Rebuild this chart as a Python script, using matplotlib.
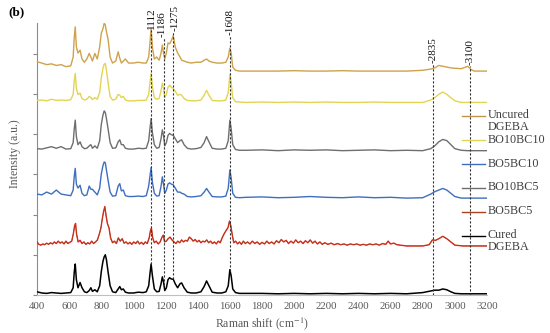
import numpy as np
import matplotlib.pyplot as plt
from matplotlib.lines import Line2D

plt.rcParams['font.family'] = ['Liberation Serif', 'DejaVu Serif']
plt.rcParams['mathtext.fontset'] = 'stix'

# Raman shift grid (cm-1) shared by the smoother spectra
shift = [400, 430, 460, 490, 520, 550, 580, 610, 625, 632,
         638, 645, 655, 668, 680, 695, 710, 725, 735, 745,
         760, 775, 790, 800, 810, 818, 825, 832, 842, 855,
         870, 890, 905, 915, 925, 937, 950, 970, 1000, 1030,
         1060, 1080, 1095, 1103, 1110, 1118, 1130, 1145, 1160, 1172,
         1180, 1187, 1195, 1205, 1215, 1225, 1235, 1248, 1260, 1275,
         1290, 1300, 1315, 1335, 1360, 1390, 1420, 1440, 1455, 1470,
         1490, 1520, 1550, 1575, 1590, 1600, 1608, 1618, 1635, 1660,
         1700, 1800, 1900, 2000, 2100, 2200, 2300, 2400, 2500, 2600,
         2700, 2800, 2850, 2875, 2900, 2925, 2950, 2975, 3000, 3040,
         3080, 3100, 3120, 3150, 3200]

uncured = [0.23, 0.20, 0.16, 0.18, 0.14, 0.16, 0.11, 0.13, 0.35, 0.85,
           1.10, 0.60, 0.45, 0.52, 0.30, 0.22, 0.30, 0.44, 0.35, 0.25,
           0.44, 0.30, 0.60, 0.94, 1.05, 1.19, 1.15, 0.98, 0.80, 0.35,
           0.20, 0.25, 0.48, 0.32, 0.20, 0.25, 0.30, 0.20, 0.20, 0.22,
           0.20, 0.20, 0.35, 0.70, 1.06, 0.60, 0.30, 0.35, 0.27, 0.45,
           0.65, 0.45, 0.30, 0.45, 0.70, 0.68, 0.75, 0.88, 0.60, 0.45,
           0.35, 0.27, 0.25, 0.22, 0.20, 0.22, 0.22, 0.27, 0.30, 0.25,
           0.22, 0.20, 0.20, 0.22, 0.35, 0.57, 0.45, 0.10, 0.02, 0.00,
           0.00, 0.00, 0.00, 0.01, 0.00, 0.00, 0.01, 0.00, 0.00, 0.00,
           0.00, 0.02, 0.05, 0.08, 0.14, 0.12, 0.10, 0.08, 0.07, 0.06,
           0.12, 0.04, 0.00, 0.00, 0.00]

bo10bc10 = [0.05, 0.06, 0.04, 0.08, 0.05, 0.06, 0.05, 0.07, 0.20, 0.55,
            0.72, 0.35, 0.20, 0.23, 0.10, 0.06, 0.08, 0.15, 0.12, 0.07,
            0.12, 0.08, 0.25, 0.60, 0.85, 0.95, 0.97, 0.80, 0.50, 0.15,
            0.06, 0.08, 0.20, 0.18, 0.12, 0.15, 0.06, 0.04, 0.04, 0.05,
            0.05, 0.06, 0.20, 0.50, 0.72, 0.40, 0.12, 0.08, 0.10, 0.30,
            0.48, 0.35, 0.12, 0.20, 0.38, 0.43, 0.38, 0.35, 0.28, 0.18,
            0.20, 0.18, 0.10, 0.05, 0.04, 0.04, 0.06, 0.18, 0.30, 0.18,
            0.05, 0.04, 0.04, 0.06, 0.25, 0.70, 0.50, 0.12, 0.02, 0.01,
            0.00, 0.01, 0.00, 0.01, 0.00, 0.01, 0.00, 0.00, 0.01, 0.00,
            0.00, 0.00, 0.06, 0.12, 0.20, 0.26, 0.20, 0.12, 0.04, 0.00,
            0.00, 0.00, 0.00, 0.00, 0.00]

bo5bc10 = [0.10, 0.08, 0.15, 0.10, 0.20, 0.10, 0.08, 0.06, 0.20, 0.55,
           0.74, 0.35, 0.25, 0.32, 0.12, 0.06, 0.08, 0.30, 0.22, 0.22,
           0.15, 0.08, 0.25, 0.60, 0.80, 0.90, 0.88, 0.70, 0.45, 0.15,
           0.05, 0.06, 0.30, 0.36, 0.18, 0.20, 0.06, 0.04, 0.04, 0.05,
           0.04, 0.06, 0.30, 0.55, 0.76, 0.40, 0.12, 0.05, 0.06, 0.30,
           0.53, 0.35, 0.12, 0.20, 0.35, 0.38, 0.35, 0.33, 0.25, 0.15,
           0.15, 0.12, 0.10, 0.04, 0.03, 0.04, 0.06, 0.15, 0.24, 0.15,
           0.04, 0.03, 0.03, 0.05, 0.25, 0.70, 0.50, 0.12, 0.02, 0.01,
           0.02, 0.03, 0.01, 0.02, 0.04, 0.02, 0.01, 0.03, 0.01, 0.02,
           0.00, 0.01, 0.10, 0.16, 0.20, 0.24, 0.20, 0.12, 0.04, 0.00,
           0.00, 0.00, 0.00, 0.00, 0.00]

bo10bc5 = [0.05, 0.04, 0.07, 0.10, 0.06, 0.10, 0.04, 0.05, 0.20, 0.55,
           0.76, 0.35, 0.15, 0.22, 0.10, 0.05, 0.06, 0.12, 0.15, 0.06,
           0.12, 0.06, 0.25, 0.65, 0.88, 0.99, 0.95, 0.80, 0.55, 0.20,
           0.06, 0.07, 0.22, 0.27, 0.15, 0.15, 0.06, 0.04, 0.04, 0.06,
           0.05, 0.06, 0.25, 0.55, 0.80, 0.45, 0.15, 0.06, 0.08, 0.30,
           0.52, 0.38, 0.12, 0.20, 0.38, 0.43, 0.40, 0.38, 0.30, 0.20,
           0.25, 0.27, 0.15, 0.06, 0.04, 0.05, 0.08, 0.20, 0.35, 0.22,
           0.06, 0.04, 0.04, 0.06, 0.25, 0.76, 0.55, 0.15, 0.03, 0.01,
           0.01, 0.02, 0.00, 0.02, 0.01, 0.02, 0.00, 0.01, 0.02, 0.00,
           0.01, 0.00, 0.05, 0.12, 0.22, 0.28, 0.25, 0.15, 0.05, 0.01,
           0.00, 0.00, 0.00, 0.00, 0.00]

cured = [0.05, 0.02, 0.01, 0.03, 0.02, 0.01, 0.02, 0.03, 0.15, 0.55,
         0.74, 0.35, 0.15, 0.28, 0.15, 0.05, 0.03, 0.08, 0.15, 0.06,
         0.10, 0.05, 0.20, 0.55, 0.80, 0.92, 0.97, 0.85, 0.55, 0.20,
         0.05, 0.03, 0.12, 0.18, 0.10, 0.12, 0.04, 0.02, 0.02, 0.04,
         0.03, 0.05, 0.20, 0.50, 0.74, 0.45, 0.12, 0.05, 0.06, 0.25,
         0.42, 0.30, 0.08, 0.15, 0.35, 0.40, 0.37, 0.36, 0.25, 0.15,
         0.25, 0.27, 0.15, 0.04, 0.02, 0.02, 0.05, 0.18, 0.32, 0.20,
         0.04, 0.02, 0.02, 0.05, 0.20, 0.60, 0.45, 0.12, 0.03, 0.01,
         0.01, 0.01, 0.00, 0.01, 0.00, 0.01, 0.00, 0.01, 0.00, 0.01,
         0.00, 0.03, 0.07, 0.09, 0.09, 0.12, 0.10, 0.05, 0.01, 0.00,
         0.00, 0.00, 0.00, 0.00, 0.00]

# the noisy BO5BC5 trace needs its own, denser grid
shift_bo5bc5 = [400, 412, 424, 436, 448, 460, 472, 484, 496, 508, 520, 532, 544, 556, 568, 580,
                592, 604, 616, 626, 634, 640, 646, 656, 668, 680, 692, 704, 716, 728, 740, 752,
                764, 776, 788, 798, 806, 814, 822, 830, 838, 848, 858, 870, 882, 894, 906, 918,
                930, 942, 954, 966, 978, 990, 1002, 1014, 1026, 1038, 1050, 1062, 1074, 1086, 1098, 1106,
                1112, 1120, 1130, 1142, 1154, 1166, 1178, 1186, 1194, 1204, 1216, 1228, 1240, 1252, 1264, 1276,
                1288, 1300, 1312, 1324, 1336, 1348, 1360, 1372, 1384, 1396, 1408, 1420, 1432, 1444, 1456, 1468,
                1480, 1492, 1504, 1516, 1528, 1540, 1552, 1564, 1576, 1588, 1598, 1606, 1614, 1624, 1636, 1648,
                1660, 1672, 1684, 1696, 1710, 1725, 1740, 1755, 1770, 1785, 1800, 1815, 1830, 1845, 1860, 1875,
                1890, 1905, 1920, 1935, 1950, 1965, 1980, 1995, 2010, 2025, 2040, 2055, 2070, 2085, 2100, 2115,
                2130, 2145, 2160, 2175, 2190, 2210, 2230, 2250, 2270, 2290, 2310, 2330, 2350, 2370, 2390, 2410,
                2430, 2450, 2470, 2490, 2510, 2530, 2550, 2570, 2585, 2600, 2620, 2640, 2660, 2700, 2800, 2840,
                2860, 2880, 2900, 2925, 2950, 2975, 3000, 3050, 3200]
bo5bc5 = [0.10, 0.04, 0.02, 0.05, 0.03, 0.07, 0.04, 0.08, 0.05, 0.10, 0.06, 0.12, 0.07, 0.10, 0.05, 0.12,
          0.06, 0.09, 0.12, 0.30, 0.50, 0.56, 0.30, 0.10, 0.14, 0.06, 0.10, 0.04, 0.08, 0.05, 0.12, 0.06,
          0.10, 0.15, 0.30, 0.45, 0.67, 0.85, 0.98, 0.75, 0.56, 0.45, 0.20, 0.08, 0.12, 0.06, 0.20, 0.12,
          0.18, 0.07, 0.10, 0.05, 0.09, 0.04, 0.10, 0.06, 0.12, 0.05, 0.09, 0.04, 0.10, 0.06, 0.20, 0.38,
          0.44, 0.20, 0.08, 0.12, 0.05, 0.10, 0.22, 0.27, 0.10, 0.12, 0.18, 0.22, 0.15, 0.10, 0.06, 0.12,
          0.08, 0.15, 0.10, 0.14, 0.12, 0.22, 0.18, 0.12, 0.16, 0.10, 0.14, 0.08, 0.12, 0.10, 0.15, 0.08,
          0.12, 0.06, 0.10, 0.05, 0.12, 0.08, 0.20, 0.30, 0.38, 0.45, 0.62, 0.50, 0.30, 0.08, 0.12, 0.05,
          0.10, 0.04, 0.12, 0.06, 0.10, 0.05, 0.12, 0.06, 0.10, 0.04, 0.09, 0.05, 0.12, 0.06, 0.10, 0.05,
          0.13, 0.08, 0.16, 0.10, 0.14, 0.06, 0.12, 0.07, 0.15, 0.08, 0.12, 0.06, 0.13, 0.08, 0.15, 0.07,
          0.12, 0.05, 0.10, 0.04, 0.08, 0.04, 0.07, 0.03, 0.06, 0.03, 0.05, 0.02, 0.05, 0.03, 0.05, 0.02,
          0.04, 0.02, 0.05, 0.03, 0.05, 0.02, 0.06, 0.04, 0.12, 0.05, 0.07, 0.03, 0.02, 0.00, 0.00, 0.03,
          0.15, 0.14, 0.18, 0.24, 0.18, 0.10, 0.02, 0.00, 0.00]

labels = ['Uncured\nDGEBA', 'BO10BC10', 'BO5BC10', 'BO10BC5', 'BO5BC5', 'Cured\nDGEBA']

# marked bands: where the dotted guides sit and what they are labelled
band_pos = [1110, 1190, 1248, 1602, 2862, 3095]
band_labels = ['1112', '-1186', '-1275', '-1608', '-2835', '-3100']

# layout / style
offsets = [5.57, 4.79, 2.41, 3.59, 1.22, 0.03]
colors = ['#cfa24b', '#e2d553', '#3d6fbf', '#6e6e6e', '#e3211b', '#000000']
handle_colors = ['#bf9444', '#e2d553', '#3d6fbf', '#6e6e6e', '#a8431e', '#000000']
band_top = [6.6, 6.4, 6.55, 6.45, 5.75, 5.7]
label_nudge = [0, -10, 10, 0, 0, 0]   # cm-1, keeps the 1186/1275 labels apart

fig = plt.figure(figsize=(5.5, 3.33), dpi=100)
ax = fig.add_axes([37 / 550, 38 / 333, 450 / 550, 272 / 333])

series = [(shift, uncured), (shift, bo10bc10), (shift, bo5bc10),
          (shift, bo10bc5), (shift_bo5bc5, bo5bc5), (shift, cured)]
for (x, y), off, c in zip(series, offsets, colors):
    yy = np.array(y) + off
    ax.plot(x, yy, color=c, lw=1.0 if c != '#000000' else 1.1, zorder=3)
    if c == '#e3211b':
        ax.plot(x, yy, color='#9b4a1e', lw=0.4, zorder=3)

cured_line = np.array(cured) + offsets[5]
for pos, lab, top, dx in zip(band_pos, band_labels, band_top, label_nudge):
    bottom = np.interp(pos, shift, cured_line) if pos < 2000 else 0
    ax.plot([pos, pos], [bottom, top], color='#333333', lw=0.8,
            linestyle=(0, (2, 1.6)), zorder=4)
    ax.text(pos + dx, top + 0.02, lab, rotation=90, ha='center', va='bottom',
            fontsize=8, color='#111111', clip_on=False)

ax.set_xlim(400, 3200)
ax.set_ylim(0, 272 / 40.2)
ax.set_xticks(np.arange(400, 3201, 200))
ax.set_yticks(np.arange(0, 7))
ax.set_yticklabels([])
ax.tick_params(axis='x', length=0, pad=5, labelsize=7.8, labelcolor='#595959')
ax.tick_params(axis='y', length=3, width=0.8, color='#888888', direction='out')
for side in ['top', 'right']:
    ax.spines[side].set_visible(False)
ax.spines['left'].set_color('#8c8c8c')
ax.spines['left'].set_linewidth(0.8)
ax.spines['bottom'].set_color('#bfbfbf')
ax.spines['bottom'].set_linewidth(0.8)

ax.set_xlabel('Raman shift (cm$^{-1}$)', fontsize=8.5, color='#595959', labelpad=3)
ax.set_ylabel('Intensity (a.u.)', fontsize=8.5, color='#595959')
ax.yaxis.set_label_coords(-0.036, 0.52)

fig.text(8 / 550, 1 - 12 / 333, '(b)', fontsize=9.5, fontweight='bold', va='center', ha='left')

# legend drawn by hand, entries 24 px apart with the handle on the first text line
for i, (lab, c) in enumerate(zip(labels, handle_colors)):
    ypx = 116 + 24 * i
    yf = 1 - ypx / 333
    fig.add_artist(Line2D([462 / 550, 485 / 550], [yf, yf], color=c, lw=1.0,
                          transform=fig.transFigure))
    fig.text(488 / 550, yf + 6.5 / 333, lab, fontsize=8.7, color='#404040',
             va='top', ha='left', linespacing=1.0)

fig.savefig('out.png', dpi=100)
